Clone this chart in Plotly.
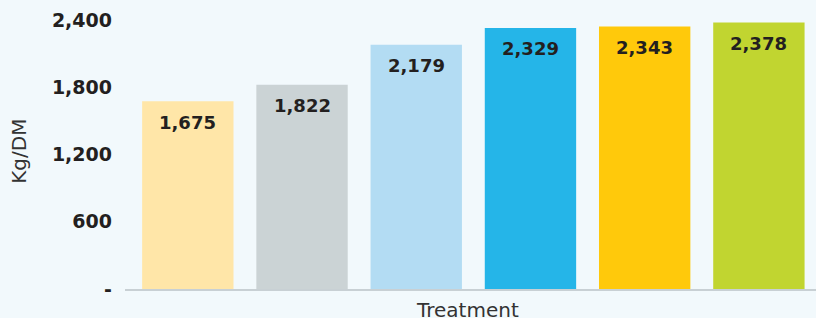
import plotly.graph_objects as go

categories = ["T1", "T2", "T3", "T4", "T5", "T6"]
values = [1675, 1822, 2179, 2329, 2343, 2378]
colors = ["#FFE6A8", "#CBD3D5", "#B3DCF3", "#25B5E8", "#FFC90B", "#C1D530"]
tick_vals = [0, 600, 1200, 1800, 2400]
tick_text = ["-", "600", "1,200", "1,800", "2,400"]

bg = "#F2F9FC"
dark = "#231F20"
font_family = "DejaVu Sans"

fig = go.Figure()
fig.add_trace(go.Bar(
    x=categories, y=values, marker=dict(color=colors, line=dict(width=0)),
    hoverinfo="skip", showlegend=False,
))

for c, v in zip(categories, values):
    fig.add_annotation(
        x=c, y=v, text=f"{v:,}", showarrow=False, yanchor="middle", yshift=-21,
        font=dict(family=font_family, size=18, color=dark, weight="bold"),
    )

# axis titles
fig.add_annotation(
    xref="paper", yref="paper", x=0.495, y=0, yanchor="top", xanchor="center",
    yshift=-7, text="Treatment", showarrow=False,
    font=dict(family=font_family, size=20, color="#333333"),
)
fig.add_annotation(
    xref="paper", yref="paper", x=(19 - 125) / 691, y=0.51, xanchor="center",
    yanchor="middle", textangle=-90, text="Kg/DM", showarrow=False,
    font=dict(family=font_family, size=20, color="#333333"),
)

fig.update_layout(
    width=816, height=318,
    margin=dict(l=125, r=0, t=20, b=29),
    paper_bgcolor=bg, plot_bgcolor=bg,
    bargap=0.2,
    xaxis=dict(
        range=[-0.55, 5.5], showticklabels=False, showgrid=False, zeroline=False,
        showline=True, linecolor="#C8D0D4", linewidth=2, ticks="",
    ),
    yaxis=dict(
        range=[0, 2400], tickvals=tick_vals, ticktext=tick_text,
        showgrid=False, zeroline=False, showline=False, ticks="",
        ticklabelstandoff=12,
        tickfont=dict(family=font_family, size=19, color=dark, weight="bold"),
    ),
)

fig.write_html(
    "out.html",
    config={"displayModeBar": False},
    post_script="document.body.style.margin='0';document.body.style.background='#F2F9FC';",
)
